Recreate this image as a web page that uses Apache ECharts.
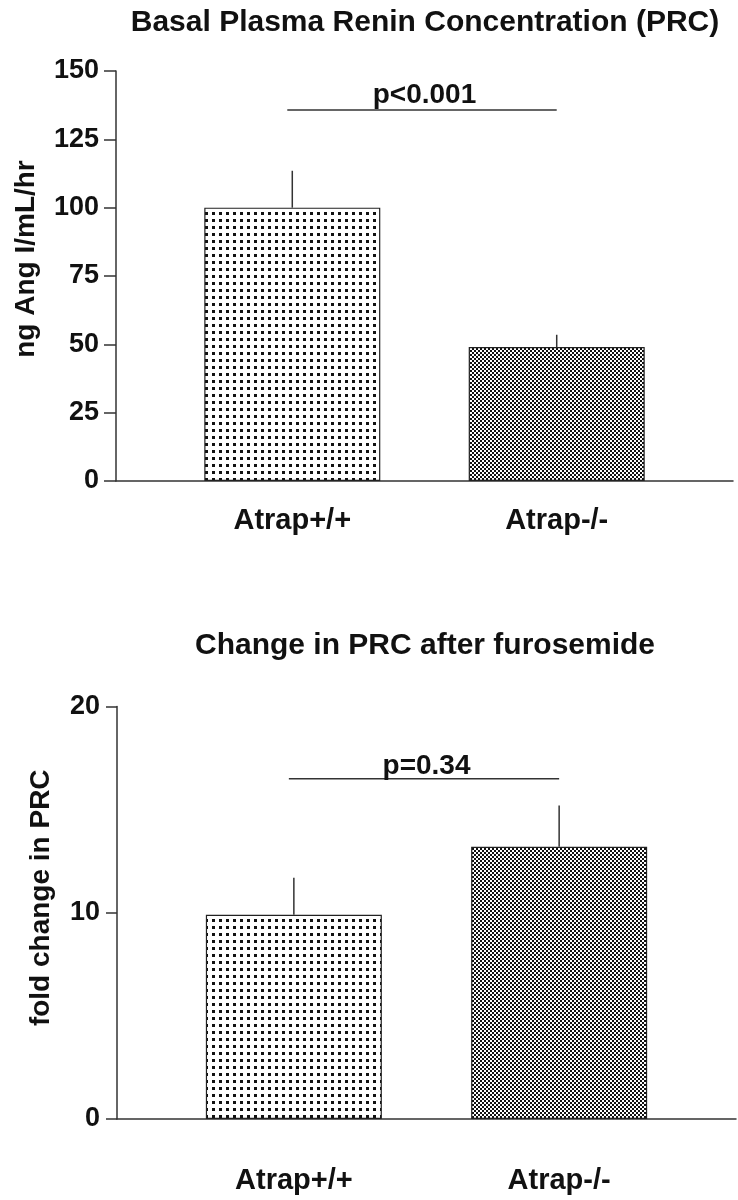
<!DOCTYPE html>
<html><head><meta charset="utf-8">
<script src="https://cdn.jsdelivr.net/npm/echarts@6/dist/echarts.min.js"></script>
<style>html,body{margin:0;padding:0;background:#fff}#c{width:738px;height:1200px}</style>
</head><body><div id="c"></div>
<script>
// ---- data ----
const categories = ['Atrap+/+', 'Atrap-/-'];
const titles = ['Basal Plasma Renin Concentration (PRC)', 'Change in PRC after furosemide'];
const yNames = ['ng Ang I/mL/hr', 'fold change in PRC'];
const basalMeans = [100, 49];
const basalErrTops = [113.5, 53.5];
const foldMeans = [9.9, 13.2];
const foldErrTops = [11.7, 15.2];
const basalTicks = [0, 25, 50, 75, 100, 125, 150];
const foldTicks = [0, 10, 20];
const sigLevels = [135.7, 16.5];
const sigLabels = ['p<0.001', 'p=0.34'];

// ---- patterns ----
function dotPattern() {
  const c = document.createElement('canvas'); c.width = 7; c.height = 7;
  const g = c.getContext('2d'); g.fillStyle = '#fff'; g.fillRect(0, 0, 7, 7);
  g.fillStyle = '#111'; g.fillRect(2, 2, 3, 3); return c;
}
function checkPattern() {
  const c = document.createElement('canvas'); c.width = 4; c.height = 4;
  const g = c.getContext('2d'); g.fillStyle = '#fff'; g.fillRect(0, 0, 4, 4);
  g.fillStyle = '#111'; g.fillRect(0, 0, 2, 2); g.fillRect(2, 2, 2, 2); return c;
}
const fills = [{ image: dotPattern(), repeat: 'repeat' }, { image: checkPattern(), repeat: 'repeat' }];

const FONT = 'Liberation Sans';
const AX = '#333';
const panels = [
  { means: basalMeans, errs: basalErrTops, ticks: basalTicks, grid: { left: 116, top: 71, width: 617, height: 410 },
    titleTop: 3, tickLen: 12, xMargin: 25, nameGap: 76, namePad: 34, sigOff: -15 },
  { means: foldMeans, errs: foldErrTops, ticks: foldTicks, grid: { left: 117, top: 706.5, width: 619, height: 412.5 },
    titleTop: 626, tickLen: 11, xMargin: 47, nameGap: 62, namePad: 30, sigOff: -12 }
];

const option = {
  animation: false,
  backgroundColor: '#fff',
  title: panels.map((p, k) => ({
    text: titles[k], left: 420, top: p.titleTop, textAlign: 'center',
    textStyle: { fontFamily: FONT, fontSize: 30, fontWeight: 'bold', color: '#111' }
  })),
  grid: panels.map(p => Object.assign({ containLabel: false }, p.grid)),
  xAxis: panels.map((p, k) => ({
    type: 'value', gridIndex: k, min: -2 / 3, max: 5 / 3,
    axisLine: { show: true, onZero: false, lineStyle: { color: AX, width: 1.5 } },
    axisTick: { show: false }, splitLine: { show: false },
    axisLabel: {
      customValues: categories.map((c, i) => i),
      formatter: v => categories[Math.round(v)] || '',
      fontFamily: FONT, fontSize: 29, fontWeight: 'bold', color: '#111', margin: p.xMargin
    }
  })),
  yAxis: panels.map((p, k) => ({
    type: 'value', gridIndex: k,
    min: p.ticks[0], max: p.ticks[p.ticks.length - 1], interval: p.ticks[1] - p.ticks[0],
    axisLine: { show: true, onZero: false, lineStyle: { color: AX, width: 1.5 } },
    axisTick: { show: true, length: p.tickLen, lineStyle: { color: AX, width: 1.5 } },
    splitLine: { show: false },
    axisLabel: { fontFamily: FONT, fontSize: 27, fontWeight: 'bold', color: '#111', margin: 17 },
    name: yNames[k], nameLocation: 'middle', nameGap: p.nameGap,
    nameTextStyle: { fontFamily: FONT, fontSize: 28, fontWeight: 'bold', color: '#111', padding: [0, 0, 0, p.namePad] }
  })),
  series: []
};

panels.forEach((p, k) => {
  option.series.push({
    type: 'bar', xAxisIndex: k, yAxisIndex: k, barWidth: 176,
    data: categories.map((c, i) => ({ value: [i, p.means[i]], itemStyle: { color: fills[i] } })),
    itemStyle: { borderColor: '#222', borderWidth: 1.2 }
  });
  option.series.push({
    type: 'custom', xAxisIndex: k, yAxisIndex: k, z: 5,
    data: categories.map((c, i) => [i, p.means[i], p.errs[i]]),
    renderItem: (params, api) => {
      const a = api.coord([api.value(0), api.value(1)]);
      const b = api.coord([api.value(0), api.value(2)]);
      return { type: 'line', shape: { x1: a[0], y1: a[1], x2: b[0], y2: b[1] },
        style: { stroke: AX, lineWidth: 1.5 } };
    }
  });
  option.series.push({
    type: 'custom', xAxisIndex: k, yAxisIndex: k, z: 5,
    data: [[0, 1, sigLevels[k]]],
    renderItem: (params, api) => {
      const a = api.coord([api.value(0), api.value(2)]);
      const b = api.coord([api.value(1), api.value(2)]);
      return { type: 'group', children: [
        { type: 'line', shape: { x1: a[0] - 5, y1: a[1], x2: b[0], y2: b[1] }, style: { stroke: AX, lineWidth: 1.5 } },
        { type: 'text', x: (a[0] + b[0]) / 2, y: a[1] + p.sigOff,
          style: { text: sigLabels[k], textAlign: 'center', textVerticalAlign: 'middle',
            fontFamily: FONT, fontSize: 28, fontWeight: 'bold', fill: '#111' } }
      ] };
    }
  });
});

const chart = echarts.init(document.getElementById('c'), null, { renderer: 'canvas' });
chart.setOption(option);
</script>
</body></html>
